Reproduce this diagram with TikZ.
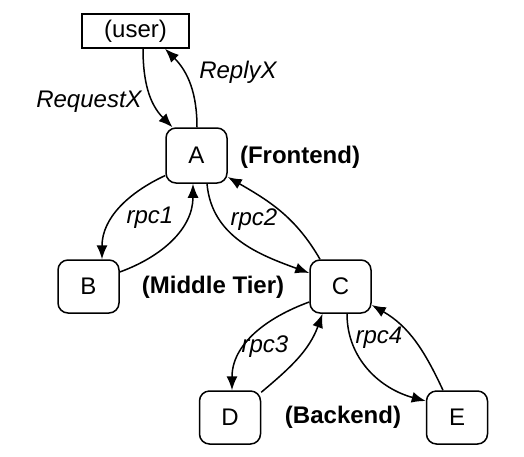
\documentclass[tikz,border=0pt]{standalone}
\usepackage{fontspec}
\setmainfont{Liberation Sans}
\usetikzlibrary{arrows.meta}

\begin{document}
\begin{tikzpicture}[x=0.5pt, y=-0.5pt, line width=0.75pt,
    font=\fontsize{12}{14}\selectfont,
    server/.style={draw, rounded corners=5pt, minimum width=30.5pt, minimum height=26.5pt, inner sep=0pt},
    call/.style={-{Latex[length=7pt, width=5.5pt]}},
    tier/.style={font=\fontsize{12}{14}\selectfont\bfseries},
    rpc/.style={font=\fontsize{12}{14}\selectfont\itshape}]
                        \useasboundingbox (0,0) rectangle (524,456);

                        \node (user) at (135.5, 31) [draw, minimum width=53.5pt, minimum height=17pt, inner sep=0pt] {(user)};
                        \node (A) at (196.5, 155.5) [server, minimum height=27.5pt] {A};

                        \foreach \n/\x/\y in {B/88.5/286.5, C/340.5/286.5, D/230/417.5, E/457/417.5} {
                            \node (\n) at (\x, \y) [server] {\n};
                        }

                        \node (front) at (300, 157) [tier] {(Frontend)};
                        \node (middle) at (213, 287) [tier] {(Middle Tier)};
                        \node (back) at (343, 417) [tier] {(Backend)};

                        \node (reqX) at (89, 102) [rpc] {RequestX};
                        \node (repX) at (238, 72) [rpc] {ReplyX};
                        \node (rpc1) at (150, 218) [rpc] {rpc1};
                        \node (rpc2) at (254, 220) [rpc] {rpc2};
                        \node (rpc3) at (265, 347) [rpc] {rpc3};
                        \node (rpc4) at (379, 338) [rpc] {rpc4};

                        \draw [call] ([xshift=3.75pt]user.south) to [out=-90, in=135] ([xshift=-12pt]A.north);
                        \draw [call] ([xshift=0.25pt]A.north) to [out=90, in=-45] ([xshift=14.75pt]user.south);
                        \draw [call] ([yshift=-10pt]A.west) to [out=205, in=90] ([xshift=6.75pt]B.north);
                        \draw [call] ([yshift=7.25pt]B.east) to [out=20, in=-90] ([xshift=-1.75pt]A.south);
                        \draw [call] ([xshift=5.25pt]A.south) to [out=-85, in=160] ([yshift=6.75pt]C.west);
                        \draw [call] ([xshift=-10.25pt]C.north) to [out=120, in=-30] ([yshift=-10.75pt]A.east);
                        \draw [call] ([yshift=-7.75pt]C.west) to [out=200, in=90] ([xshift=1pt]D.north);
                        \draw [call] ([yshift=-1pt]D.north east) to [out=40, in=-110] ([xshift=-9pt]C.south);
                        \draw [call] ([xshift=3.25pt]C.south) to [out=-90, in=165] ([yshift=8.25pt]E.west);
                        \draw [call] ([xshift=-7pt]E.north) to [out=115, in=-30] ([yshift=-9.25pt]C.east);

%                         \draw [dashed] (A) -- (C);
                    \end{tikzpicture}
\end{document}
